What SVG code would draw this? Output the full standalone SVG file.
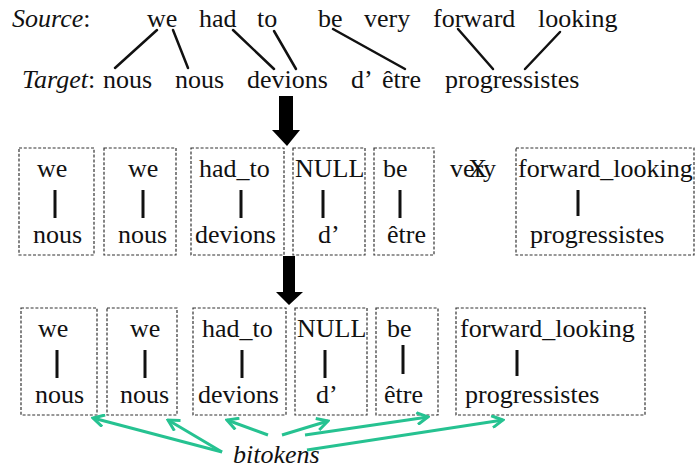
<svg xmlns="http://www.w3.org/2000/svg" width="696" height="469" viewBox="0 0 696 469" font-family="'Liberation Serif', 'DejaVu Serif', serif">
<style>
text{font-family:'Liberation Serif','DejaVu Serif',serif;font-size:26px;fill:#111}
.it{font-style:italic}
.box{fill:none;stroke:#333;stroke-width:1.2;stroke-dasharray:3 1.8}
.bar{stroke:#111;stroke-width:3}
.al{stroke:#111;stroke-width:2.5;stroke-linecap:round}
.g{stroke:#26c291;stroke-width:3;fill:none;marker-end:url(#gh)}
</style>
<defs>
<marker id="gh" viewBox="0 0 14 14" refX="12" refY="7" markerWidth="14" markerHeight="14" markerUnits="userSpaceOnUse" orient="auto">
<path d="M1,1 L12,7 L1,13" fill="none" stroke="#26c291" stroke-width="3" stroke-linejoin="miter"/>
</marker>
</defs>
<rect width="696" height="469" fill="#fff"/>

<g id="source">
<text x="12" y="27"><tspan class="it">Source</tspan>:</text>
<text x="147" y="27">we</text>
<text x="199" y="27">had</text>
<text x="257" y="27">to</text>
<text x="318" y="27">be</text>
<text x="364" y="27">very</text>
<text x="433" y="27">forward</text>
<text x="538" y="27">looking</text>
</g>
<g id="target">
<text x="22" y="88"><tspan class="it">Target</tspan>:</text>
<text x="103" y="88">nous</text>
<text x="175" y="88">nous</text>
<text x="247" y="88">devions</text>
<text x="351" y="88">d’</text>
<text x="382" y="88">être</text>
<text x="445" y="88">progressistes</text>
</g>

<g id="alignments">
<line class="al" x1="157" y1="30" x2="115" y2="68"/>
<line class="al" x1="173" y1="30" x2="188" y2="68"/>
<line class="al" x1="233" y1="30" x2="274" y2="69"/>
<line class="al" x1="274" y1="31" x2="296" y2="69"/>
<line class="al" x1="333" y1="29" x2="405" y2="69"/>
<line class="al" x1="458" y1="29" x2="493" y2="69"/>
<line class="al" x1="560" y1="32" x2="525" y2="69"/>
</g>

<g id="arrow1"><path d="M279,96 H293 V130 H300 L287,146 L272,130 H279 Z" fill="#000"/></g>
<g id="arrow2"><path d="M283,256 H295 V292 H303 L289,305 L276,292 H283 Z" fill="#000"/></g>

<g id="m1"><rect class="box" x="19" y="148" width="75" height="107"/><text x="37" y="177">we</text><line class="bar" x1="55" y1="190" x2="55" y2="218"/><text x="33" y="243">nous</text></g>
<g id="m2"><rect class="box" x="104" y="148" width="72" height="107"/><text x="128" y="177">we</text><line class="bar" x1="143" y1="190" x2="143" y2="218"/><text x="118" y="243">nous</text></g>
<g id="m3"><rect class="box" x="191" y="148" width="93" height="107"/><text x="199" y="177">had_to</text><line class="bar" x1="241" y1="190" x2="241" y2="218"/><text x="195" y="243">devions</text></g>
<g id="m4"><rect class="box" x="293" y="148" width="72" height="107"/><text x="295" y="177">NULL</text><line class="bar" x1="323" y1="190" x2="323" y2="218"/><text x="318" y="243">d’</text></g>
<g id="m5"><rect class="box" x="374" y="148" width="60" height="107"/><text x="383" y="177">be</text><line class="bar" x1="400" y1="190" x2="400" y2="218"/><text x="387" y="243">être</text></g>
<g id="m-very"><text x="450" y="177">ver<tspan dx="-15">X</tspan><tspan dx="-4">y</tspan></text></g>
<g id="m6"><rect class="box" x="516" y="148" width="178" height="107"/><text x="518" y="177">forward_looking</text><line class="bar" x1="578" y1="190" x2="578" y2="216"/><text x="530" y="243">progressistes</text></g>

<g id="b1"><rect class="box" x="21" y="308" width="76" height="107"/><text x="38" y="337">we</text><line class="bar" x1="57" y1="350" x2="57" y2="378"/><text x="35" y="403">nous</text></g>
<g id="b2"><rect class="box" x="107" y="308" width="70" height="107"/><text x="130" y="337">we</text><line class="bar" x1="145" y1="350" x2="145" y2="378"/><text x="120" y="403">nous</text></g>
<g id="b3"><rect class="box" x="193" y="308" width="93" height="107"/><text x="202" y="337">had_to</text><line class="bar" x1="242" y1="350" x2="242" y2="378"/><text x="198" y="403">devions</text></g>
<g id="b4"><rect class="box" x="295" y="308" width="72" height="107"/><text x="297" y="337">NULL</text><line class="bar" x1="325" y1="350" x2="325" y2="378"/><text x="316" y="403">d’</text></g>
<g id="b5"><rect class="box" x="376" y="308" width="62" height="107"/><text x="387" y="337">be</text><line class="bar" x1="403" y1="345" x2="403" y2="374"/><text x="384" y="403">être</text></g>
<g id="b6"><rect class="box" x="456" y="308" width="189" height="107"/><text x="460" y="337">forward_looking</text><line class="bar" x1="517" y1="350" x2="517" y2="376"/><text x="465" y="403">progressistes</text></g>

<g id="bitokens"><text x="233" y="463" class="it">bitokens</text></g>

<g id="connectors">
<line class="g" x1="222" y1="452" x2="93" y2="418"/>
<line class="g" x1="222" y1="452" x2="168" y2="420"/>
<line class="g" x1="268" y1="435" x2="227" y2="420"/>
<line class="g" x1="282" y1="435" x2="328" y2="421"/>
<line class="g" x1="305" y1="435" x2="428" y2="417"/>
<line class="g" x1="307" y1="450" x2="503" y2="420"/>
</g>
</svg>
